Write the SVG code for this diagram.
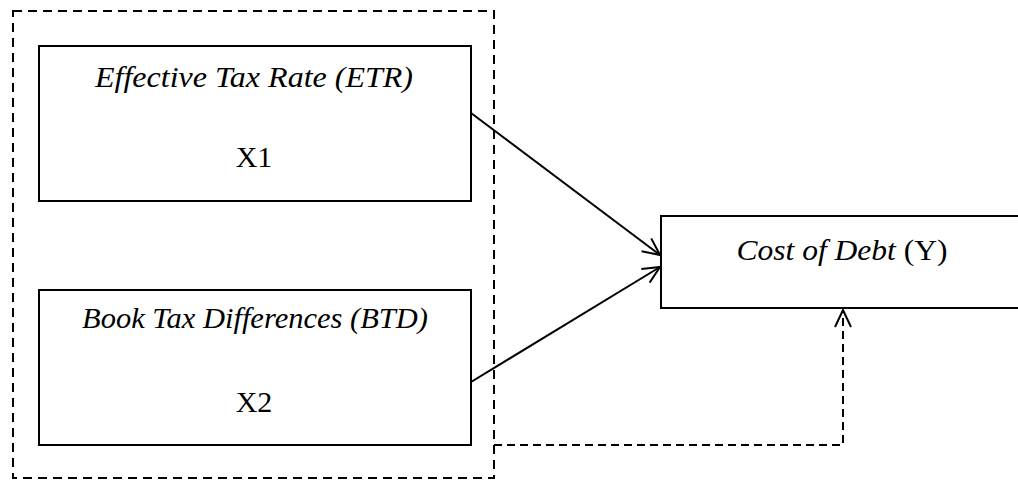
<svg xmlns="http://www.w3.org/2000/svg" width="1018" height="481" viewBox="0 0 1018 481">
<style>
.box{fill:#fff;stroke:#000;stroke-width:2}
.dash{fill:none;stroke:#000;stroke-width:2;stroke-dasharray:9,6}
.dash2{fill:none;stroke:#000;stroke-width:2;stroke-dasharray:8,5}
.edge{fill:none;stroke:#000;stroke-width:2}
.t{font-family:"Liberation Serif","Times New Roman",serif;font-size:30px;fill:#000;text-anchor:middle}
.i{font-style:italic}
</style>
<defs>
<marker id="open" viewBox="0 0 20 20" refX="18" refY="10" markerWidth="20" markerHeight="20" markerUnits="userSpaceOnUse" orient="auto">
<path d="M1,2 L18,10 L1,18" fill="none" stroke="#000" stroke-width="2"/>
</marker>
</defs>
<rect width="1018" height="481" fill="#fff"/>
<g id="group-frame">
<rect x="13" y="11" width="481" height="467" class="dash"/>
</g>
<g id="node-etr">
<rect x="39" y="46" width="432" height="155" class="box"/>
<text class="t i" x="254" y="87" textLength="318" lengthAdjust="spacingAndGlyphs">Effective Tax Rate (ETR)</text>
<text class="t" x="254" y="167">X1</text>
</g>
<g id="node-btd">
<rect x="39" y="290" width="432" height="155" class="box"/>
<text class="t i" x="255" y="328" textLength="346" lengthAdjust="spacingAndGlyphs">Book Tax Differences (BTD)</text>
<text class="t" x="254" y="412">X2</text>
</g>
<g id="node-cod">
<rect x="661" y="216" width="370" height="92" class="box"/>
<text class="t" x="842" y="260" textLength="211" lengthAdjust="spacingAndGlyphs"><tspan class="i">Cost of Debt</tspan> (Y)</text>
</g>
<g id="connectors">
<line x1="471" y1="113" x2="660" y2="255" class="edge" marker-end="url(#open)"/>
<line x1="471" y1="382" x2="660" y2="267" class="edge" marker-end="url(#open)"/>
<polyline points="494,445 843,445 843,310" class="dash2" marker-end="url(#open)"/>
</g>
</svg>
